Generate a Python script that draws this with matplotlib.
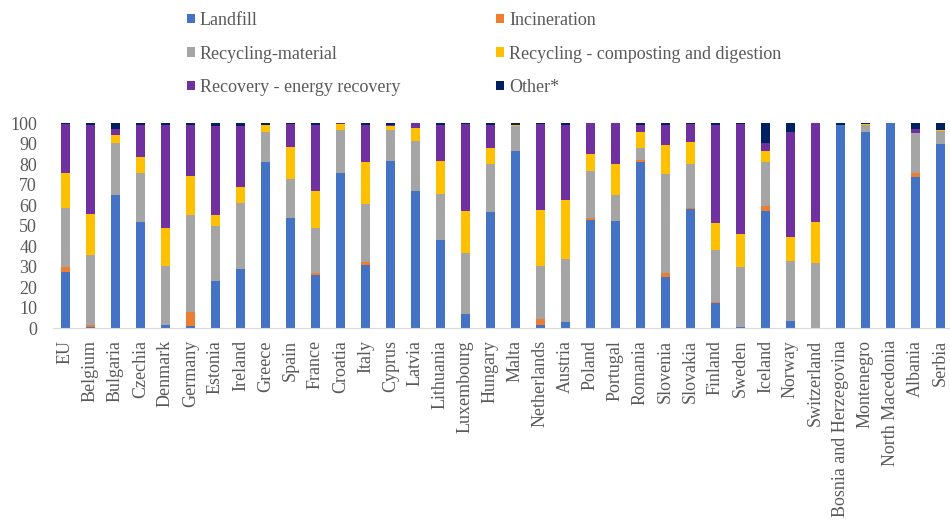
import matplotlib

matplotlib.use("Agg")
import matplotlib.pyplot as plt
import numpy as np

COUNTRIES = [
    "EU", "Belgium", "Bulgaria", "Czechia", "Denmark", "Germany", "Estonia",
    "Ireland", "Greece", "Spain", "France", "Croatia", "Italy", "Cyprus",
    "Latvia", "Lithuania", "Luxembourg", "Hungary", "Malta", "Netherlands",
    "Austria", "Poland", "Portugal", "Romania", "Slovenia", "Slovakia",
    "Finland", "Sweden", "Iceland", "Norway", "Switzerland",
    "Bosnia and Herzegovina", "Montenegro", "North Macedonia", "Albania",
    "Serbia",
]

LANDFILL = [27.3, 0.5, 65.2, 51.9, 1.6, 1.1, 23.3, 29.1, 81.3, 54.0, 26.2,
            75.9, 31.1, 81.8, 67.2, 42.9, 7.0, 56.9, 86.5, 1.6, 3.3, 52.8,
            52.4, 81.3, 25.2, 58.2, 12.2, 0.8, 57.2, 3.7, 0.0, 99.3, 95.8,
            100.0, 73.7, 89.8]
INCINERATION = [2.5, 1.1, 0.0, 0.0, 0.0, 7.0, 0.0, 0.0, 0.0, 0.0, 0.6,
                0.0, 1.4, 0.0, 0.0, 0.0, 0.0, 0.0, 0.0, 3.0, 0.0, 1.2,
                0.0, 0.8, 1.6, 0.7, 0.5, 0.0, 2.6, 0.0, 0.0, 0.0, 0.0,
                0.0, 1.9, 0.0]
RECYCLING_MATERIAL = [29.1, 34.2, 25.2, 23.7, 28.8, 47.2, 26.6, 32.0, 14.5,
                      18.7, 22.1, 20.8, 28.2, 14.9, 24.0, 22.6, 29.6, 23.1,
                      12.4, 25.8, 30.5, 22.9, 12.6, 5.7, 48.3, 21.1, 25.5,
                      29.0, 21.2, 29.0, 31.7, 0.0, 3.2, 0.0, 19.5, 6.5]
COMPOSTING = [16.7, 20.1, 3.7, 7.8, 18.7, 19.2, 5.4, 8.0, 3.2, 15.9, 18.3,
              3.0, 20.3, 2.0, 6.5, 16.3, 20.8, 7.8, 0.4, 27.5, 29.0, 8.1,
              15.0, 7.8, 14.3, 10.7, 13.0, 16.2, 5.3, 11.9, 20.2, 0.0, 0.7,
              0.0, 0.0, 0.6]
ENERGY_RECOVERY = [24.1, 43.1, 3.0, 15.9, 50.2, 24.8, 43.4, 29.6, 0.2, 11.1,
                   32.1, 0.3, 18.3, 0.6, 2.3, 17.4, 42.3, 11.5, 0.0, 41.8,
                   36.5, 15.0, 20.0, 3.7, 9.9, 9.0, 48.1, 53.7, 3.9, 51.0,
                   48.1, 0.0, 0.0, 0.0, 2.0, 0.0]
OTHER = [0.3, 1.0, 2.9, 0.7, 0.7, 0.7, 1.3, 1.3, 0.8, 0.3, 0.7, 0.0, 0.7,
         0.7, 0.0, 0.8, 0.3, 0.7, 0.7, 0.3, 0.7, 0.0, 0.0, 0.7, 0.7, 0.3,
         0.7, 0.3, 9.8, 4.4, 0.0, 0.7, 0.3, 0.0, 2.9, 3.1]

SERIES = [
    ("Landfill", LANDFILL, "#4472C4"),
    ("Incineration", INCINERATION, "#ED7D31"),
    ("Recycling-material", RECYCLING_MATERIAL, "#A5A5A5"),
    ("Recycling - composting and digestion", COMPOSTING, "#FFC000"),
    ("Recovery - energy recovery", ENERGY_RECOVERY, "#7030A0"),
    ("Other*", OTHER, "#002060"),
]

plt.rcParams["font.family"] = ["Liberation Serif", "DejaVu Serif"]
TEXT = "#595959"

fig = plt.figure(figsize=(9.5, 5.24), dpi=100)
ax = fig.add_axes([53 / 950, 0.3735, 36 * 25.0 / 950, 0.3912])

x = np.arange(len(COUNTRIES))
bottom = np.zeros(len(COUNTRIES))
handles = []
for name, vals, color in SERIES:
    vals = np.array(vals)
    h = ax.bar(x, vals, 0.36, bottom=bottom, color=color, label=name)
    handles.append(h)
    bottom += vals

ax.set_xlim(-0.5, len(COUNTRIES) - 0.5)
ax.set_ylim(0, 100)
ax.set_yticks(range(0, 101, 10))
ax.set_xticks(x)
ax.set_xticklabels(COUNTRIES, rotation=90, va="top", ha="center")
ax.tick_params(axis="y", length=0, pad=11.5, labelsize=13, labelcolor=TEXT)
ax.tick_params(axis="x", length=0, pad=8.5, labelsize=13, labelcolor=TEXT)
for side in ("left", "right", "top"):
    ax.spines[side].set_visible(False)
ax.spines["bottom"].set_color("#D9D9D9")

# legend is 3 rows x 2 columns, read row by row -> reorder for column fill
col_major = [handles[i] for i in (0, 2, 4, 1, 3, 5)]
labels = [h.get_label() for h in col_major]
fig.legend(
    col_major, labels, ncol=2, loc="upper left",
    bbox_to_anchor=(187 / 950, 1 - 12 / 524), bbox_transform=fig.transFigure,
    frameon=False, fontsize=13, labelcolor=TEXT, borderpad=0, borderaxespad=0,
    handlelength=0.42, handleheight=0.42, handletextpad=0.3,
    columnspacing=5.3, labelspacing=0.92,
)

fig.savefig("out.png", dpi=100)
